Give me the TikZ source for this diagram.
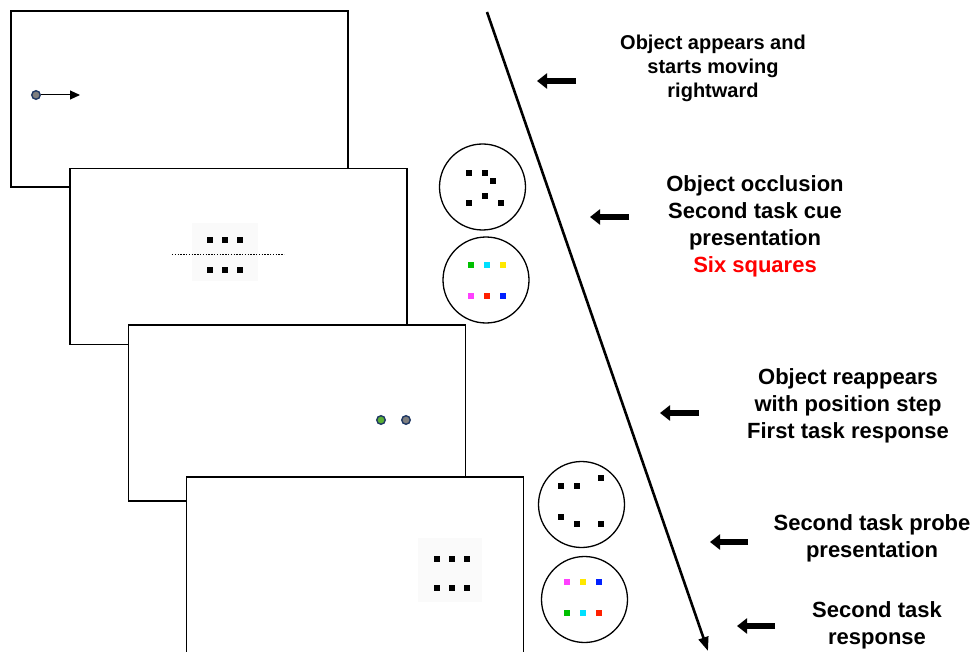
\documentclass[tikz,border=0pt]{standalone}
\usepackage{fontspec}
\setmainfont{Liberation Sans}
\usetikzlibrary{arrows.meta}
\definecolor{navy}{HTML}{1F3864}
\definecolor{dotgray}{HTML}{7F7F7F}
\definecolor{dotgreen}{HTML}{5BB035}
\definecolor{sqgreen}{HTML}{00C000}
\definecolor{sqcyan}{HTML}{00E0FF}
\definecolor{sqyellow}{HTML}{FFE800}
\definecolor{sqmagenta}{HTML}{FF40FF}
\definecolor{sqred}{HTML}{FF2000}
\definecolor{sqblue}{HTML}{0020FF}
\definecolor{paleback}{HTML}{FAFAFA}
\begin{document}
\begin{tikzpicture}[x=1pt,y=-1pt,
 screen/.style={draw, line width=1.5pt, fill=white, minimum width=337pt, minimum height=176pt, inner sep=0pt},
 disc/.style={circle, draw, line width=1.3pt, minimum size=86pt, inner sep=0pt, fill=white},
 sq/.style={fill=black, minimum size=6.5pt, inner sep=0pt},
 csq/.style={fill=#1, minimum size=6.5pt, inner sep=0pt},
 ball/.style={circle, draw=navy, line width=1.4pt, fill=#1, minimum size=8.5pt, inner sep=0pt},
 pale/.style={fill=paleback, inner sep=0pt},
 desc/.style={align=center, inner sep=0pt, font=\fontsize{22}{27}\selectfont\bfseries},
 descsmall/.style={align=center, inner sep=0pt, font=\fontsize{20}{24}\selectfont\bfseries},
 pointer/.style={line width=6pt, -{Triangle[length=10pt,width=15pt]}}
]
\useasboundingbox (0,0) rectangle (976,652);

% screens
\node[screen] (f1) at (179.5,99) {};
\node[ball=dotgray] (d1) at (36,95) {};
\coordinate (d1end) at (80,95);
\draw[line width=1pt, -{Triangle[length=10pt,width=9pt]}] (d1) -- (d1end);

\node[screen] (f2) at (238.5,256.5) {};
\node[pale, minimum width=66pt, minimum height=58pt] (bg2) at (225,252) {};
\foreach \x [count=\i] in {210,225,240}{
  \node[sq] (a\i) at (\x,240) {};
  \node[sq] (b\i) at (\x,270) {};
}
\coordinate (dl) at (172,254);
\coordinate (dr) at (284,254);
\draw[line width=1pt, dash pattern=on 1.4pt off 1.4pt] (dl) -- (dr);

\node[screen] (f3) at (297,413) {};
\node[ball=dotgreen] (g1) at (381,420) {};
\node[ball=dotgray] (g2) at (406,420) {};

\node[screen, minimum height=178pt] (f4) at (355,566) {};
\node[pale, minimum width=64pt, minimum height=64pt] (bg4) at (450,570) {};
\foreach \x [count=\i] in {437,452,467}{
  \node[sq] (c\i) at (\x,559) {};
  \node[sq] (e\i) at (\x,588) {};
}

% circles
\node[disc] (c1) at (482.5,187) {};
\node[sq] at (469,173) {};
\node[sq] at (485,173) {};
\node[sq] at (493,181) {};
\node[sq] at (485,196) {};
\node[sq] at (469,203) {};
\node[sq] at (501,203) {};

\node[disc] (c2) at (486,280) {};
\node[csq=sqgreen] at (471,265) {};
\node[csq=sqcyan] at (487,265) {};
\node[csq=sqyellow] at (503,265) {};
\node[csq=sqmagenta] at (471,296) {};
\node[csq=sqred] at (487,296) {};
\node[csq=sqblue] at (503,296) {};

\node[disc] (c3) at (581.5,504.5) {};
\node[sq] at (561,486) {};
\node[sq] at (577,486) {};
\node[sq] at (601,478) {};
\node[sq] at (561,517) {};
\node[sq] at (577,524) {};
\node[sq] at (601,524) {};

\node[disc] (c4) at (584.5,599.5) {};
\node[csq=sqmagenta] at (567,582) {};
\node[csq=sqyellow] at (583,582) {};
\node[csq=sqblue] at (599,582) {};
\node[csq=sqgreen] at (567,613) {};
\node[csq=sqcyan] at (583,613) {};
\node[csq=sqred] at (599,613) {};

% timeline
\coordinate (t0) at (487,12);
\coordinate (t1) at (708,651);
\draw[line width=2.6pt, -{Triangle[length=14pt,width=10pt]}] (t0) -- (t1);

% pointers
\coordinate (p1s) at (576,81);  \coordinate (p1e) at (537,81);
\coordinate (p2s) at (629,217); \coordinate (p2e) at (590,217);
\coordinate (p3s) at (699,413); \coordinate (p3e) at (660,413);
\coordinate (p4s) at (748,542); \coordinate (p4e) at (710,542);
\coordinate (p5s) at (775,626); \coordinate (p5e) at (737,626);
\draw[pointer] (p1s) -- (p1e);
\draw[pointer] (p2s) -- (p2e);
\draw[pointer] (p3s) -- (p3e);
\draw[pointer] (p4s) -- (p4e);
\draw[pointer] (p5s) -- (p5e);

% texts
\node[descsmall] (l1) at (713,68) {Object appears and\\starts moving\\rightward};
\node[desc] (l2) at (755,226) {Object occlusion\\Second task cue\\presentation\\\textcolor{red}{Six squares}};
\node[desc] (l3) at (848,406) {Object reappears\\with position step\\First task response};
\node[desc] (l4) at (872,538) {Second task probe\\presentation};
\node[desc] (l5) at (877,625) {Second task\\response};
\end{tikzpicture}
\end{document}
